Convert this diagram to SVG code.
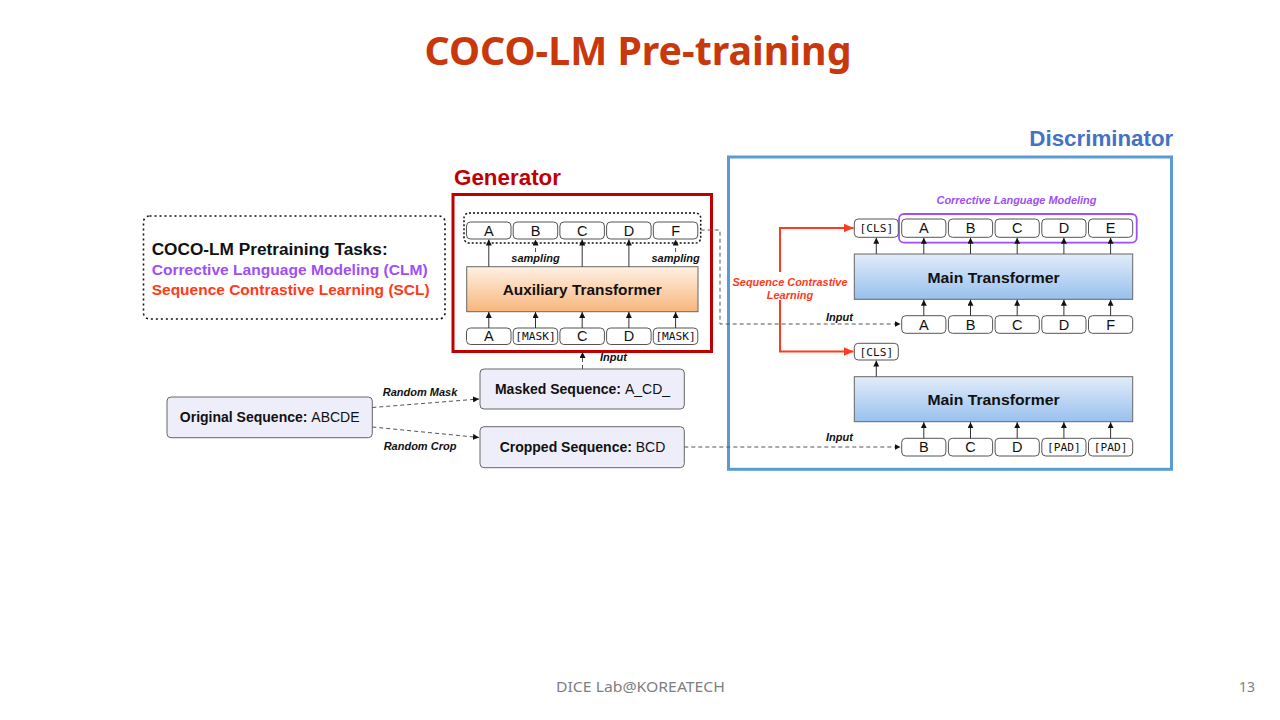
<svg xmlns="http://www.w3.org/2000/svg" width="1280" height="720" viewBox="0 0 1280 720">
<defs>
<style>
.tok{fill:#fff;stroke:#555;stroke-width:1}
.t{font-family:"Liberation Sans",Arial,sans-serif;font-size:14.5px;fill:#111;text-anchor:middle}
.m{font-family:"DejaVu Sans Mono","Liberation Mono",monospace;font-size:11.2px;fill:#111;text-anchor:middle}
.lbl{font-family:"Liberation Sans",Arial,sans-serif;font-size:11px;font-weight:bold;font-style:italic;fill:#111}
.clm{fill:#A04EF6}
.scl{fill:#FF3A1A}
.big{font-family:"Liberation Sans",Arial,sans-serif;font-size:15.5px;font-weight:bold;fill:#111;text-anchor:middle}
.seq{fill:#EEEEFA;stroke:#666;stroke-width:1}
.seqt{font-family:"Liberation Sans",Arial,sans-serif;font-size:14px;fill:#111;text-anchor:middle}
.ar{stroke:#333;stroke-width:1;fill:none;marker-end:url(#ah)}
.dash{stroke:#555;stroke-width:1;fill:none;stroke-dasharray:4 3}
.head{font-family:"Liberation Sans",Arial,sans-serif;font-size:22.4px;font-weight:bold}
</style>
<marker id="ah" markerWidth="6" markerHeight="6" refX="6" refY="3" orient="auto" markerUnits="userSpaceOnUse"><path d="M0,0 L6,3 L0,6 z" fill="#111"/></marker>
<marker id="ahr" markerWidth="10" markerHeight="9" refX="10" refY="4.5" orient="auto" markerUnits="userSpaceOnUse"><path d="M0,0 L10,4.5 L0,9 z" fill="#FF3B1F"/></marker>
<linearGradient id="gOr" x1="0" y1="0" x2="0" y2="1"><stop offset="0" stop-color="#FEF1E3"/><stop offset="1" stop-color="#F8B67C"/></linearGradient>
<linearGradient id="gBl" x1="0" y1="0" x2="0" y2="1"><stop offset="0" stop-color="#E2ECF9"/><stop offset="1" stop-color="#98C0EE"/></linearGradient>
</defs>
<rect width="1280" height="720" fill="#fff"/>

<g id="title"><text x="638" y="65" text-anchor="middle" font-family="'Noto Sans','Open Sans',sans-serif" font-size="40" font-weight="bold" fill="#C8380C" textLength="427" lengthAdjust="spacingAndGlyphs">COCO-LM Pre-training</text></g>

<g id="tasks">
<rect x="143.5" y="216" width="301.5" height="103" rx="6" fill="none" stroke="#111" stroke-width="1.6" stroke-dasharray="2 3"/>
<text x="151.7" y="254.5" font-family="'Liberation Sans',Arial,sans-serif" font-size="16.8" font-weight="bold" fill="#111" textLength="236" lengthAdjust="spacingAndGlyphs">COCO-LM Pretraining Tasks:</text>
<text x="151.7" y="275" font-family="'Liberation Sans',Arial,sans-serif" font-size="15.5" font-weight="bold" fill="#A04EF6" textLength="276" lengthAdjust="spacingAndGlyphs">Corrective Language Modeling (CLM)</text>
<text x="151.7" y="294.5" font-family="'Liberation Sans',Arial,sans-serif" font-size="15.5" font-weight="bold" fill="#FF3A1A" textLength="278" lengthAdjust="spacingAndGlyphs">Sequence Contrastive Learning (SCL)</text>
</g>

<g id="generator">
<text class="head" x="454" y="185" fill="#C00000" textLength="107" lengthAdjust="spacingAndGlyphs">Generator</text>
<rect x="453" y="194.5" width="258.5" height="157" fill="none" stroke="#C00000" stroke-width="3"/>
<rect x="464" y="213" width="236.7" height="30" rx="5" fill="none" stroke="#111" stroke-width="1.5" stroke-dasharray="2 2"/>
<g id="gen-out">
<rect class="tok" x="466.5" y="222" width="44.5" height="17" rx="4"/><text class="t" x="488.8" y="235.7">A</text>
<rect class="tok" x="513.2" y="222" width="44.5" height="17" rx="4"/><text class="t" x="535.5" y="235.7">B</text>
<rect class="tok" x="559.9" y="222" width="44.5" height="17" rx="4"/><text class="t" x="582.2" y="235.7">C</text>
<rect class="tok" x="606.6" y="222" width="44.5" height="17" rx="4"/><text class="t" x="628.9" y="235.7">D</text>
<rect class="tok" x="653.3" y="222" width="44.5" height="17" rx="4"/><text class="t" x="675.6" y="235.7">F</text>
</g>
<g id="aux">
<rect x="466.7" y="266.7" width="231.3" height="45" fill="url(#gOr)" stroke="#666" stroke-width="1"/>
<text class="big" x="582.2" y="295" textLength="159" lengthAdjust="spacingAndGlyphs">Auxiliary Transformer</text>
</g>
<text class="lbl" x="535.5" y="262" text-anchor="middle" font-size="10.5">sampling</text>
<text class="lbl" x="675.6" y="262" text-anchor="middle" font-size="10.5">sampling</text>
<g id="gen-in">
<rect class="tok" x="466.5" y="328" width="44.5" height="16.5" rx="4"/><text class="t" x="488.8" y="341.3">A</text>
<rect class="tok" x="513.2" y="328" width="44.5" height="16.5" rx="4"/><text class="m" x="535.5" y="340.3">[MASK]</text>
<rect class="tok" x="559.9" y="328" width="44.5" height="16.5" rx="4"/><text class="t" x="582.2" y="341.3">C</text>
<rect class="tok" x="606.6" y="328" width="44.5" height="16.5" rx="4"/><text class="t" x="628.9" y="341.3">D</text>
<rect class="tok" x="653.3" y="328" width="44.5" height="16.5" rx="4"/><text class="m" x="675.6" y="340.3">[MASK]</text>
</g>
</g>

<g id="sequences">
<g id="original"><rect class="seq" x="167" y="397" width="205.3" height="40.7" rx="4"/>
<text class="seqt" x="269.7" y="422"><tspan font-weight="bold">Original Sequence: </tspan>ABCDE</text></g>
<g id="masked"><rect class="seq" x="480" y="369" width="204.3" height="40" rx="4"/>
<text class="seqt" x="582.5" y="393.5"><tspan font-weight="bold">Masked Sequence: </tspan>A_CD_</text></g>
<g id="cropped"><rect class="seq" x="480" y="426.7" width="204.3" height="41" rx="4"/>
<text class="seqt" x="582.5" y="452.3"><tspan font-weight="bold">Cropped Sequence: </tspan>BCD</text></g>
</g>

<g id="discriminator">
<text class="head" x="1029.3" y="146" fill="#4472C4" textLength="144" lengthAdjust="spacingAndGlyphs">Discriminator</text>
<rect x="728.5" y="157" width="443" height="312.3" fill="none" stroke="#5B9BD5" stroke-width="3"/>
<text class="lbl clm" x="1016.5" y="204" text-anchor="middle" textLength="160" lengthAdjust="spacingAndGlyphs">Corrective Language Modeling</text>
<rect x="899" y="214" width="237.7" height="28.7" rx="5" fill="none" stroke="#A04EF6" stroke-width="1.8"/>
<g id="disc-out">
<rect class="tok" x="854.3" y="219" width="44" height="18.3" rx="4"/><text class="m" x="876.3" y="232">[CLS]</text>
<rect class="tok" x="901.7" y="219" width="44.2" height="18.3" rx="4"/><text class="t" x="923.8" y="233.3">A</text>
<rect class="tok" x="948.4" y="219" width="44.2" height="18.3" rx="4"/><text class="t" x="970.5" y="233.3">B</text>
<rect class="tok" x="995.1" y="219" width="44.2" height="18.3" rx="4"/><text class="t" x="1017.2" y="233.3">C</text>
<rect class="tok" x="1041.8" y="219" width="44.2" height="18.3" rx="4"/><text class="t" x="1063.9" y="233.3">D</text>
<rect class="tok" x="1088.5" y="219" width="44.2" height="18.3" rx="4"/><text class="t" x="1110.6" y="233.3">E</text>
</g>
<g id="main1">
<rect x="854.3" y="254" width="278.4" height="45.3" fill="url(#gBl)" stroke="#666" stroke-width="1"/>
<text class="big" x="993.5" y="282.5" textLength="132" lengthAdjust="spacingAndGlyphs">Main Transformer</text>
</g>
<g id="disc-in1">
<rect class="tok" x="901.7" y="315.7" width="44.2" height="17.6" rx="4"/><text class="t" x="923.8" y="329.7">A</text>
<rect class="tok" x="948.4" y="315.7" width="44.2" height="17.6" rx="4"/><text class="t" x="970.5" y="329.7">B</text>
<rect class="tok" x="995.1" y="315.7" width="44.2" height="17.6" rx="4"/><text class="t" x="1017.2" y="329.7">C</text>
<rect class="tok" x="1041.8" y="315.7" width="44.2" height="17.6" rx="4"/><text class="t" x="1063.9" y="329.7">D</text>
<rect class="tok" x="1088.5" y="315.7" width="44.2" height="17.6" rx="4"/><text class="t" x="1110.6" y="329.7">F</text>
</g>
<g id="cls2">
<rect class="tok" x="854.3" y="343.3" width="44" height="16.7" rx="4"/><text class="m" x="876.3" y="355.6">[CLS]</text>
</g>
<g id="main2">
<rect x="854.3" y="376.7" width="278.4" height="45" fill="url(#gBl)" stroke="#666" stroke-width="1"/>
<text class="big" x="993.5" y="405" textLength="132" lengthAdjust="spacingAndGlyphs">Main Transformer</text>
</g>
<g id="disc-in2">
<rect class="tok" x="901.7" y="438.3" width="44.2" height="17.7" rx="4"/><text class="t" x="923.8" y="452.3">B</text>
<rect class="tok" x="948.4" y="438.3" width="44.2" height="17.7" rx="4"/><text class="t" x="970.5" y="452.3">C</text>
<rect class="tok" x="995.1" y="438.3" width="44.2" height="17.7" rx="4"/><text class="t" x="1017.2" y="452.3">D</text>
<rect class="tok" x="1041.8" y="438.3" width="44.2" height="17.7" rx="4"/><text class="m" x="1063.9" y="451.2">[PAD]</text>
<rect class="tok" x="1088.5" y="438.3" width="44.2" height="17.7" rx="4"/><text class="m" x="1110.6" y="451.2">[PAD]</text>
</g>
</g>

<g id="connectors">
<path class="ar" d="M488.8 266.7 V239.5"/>
<path class="ar" d="M582.2 266.7 V239.5"/>
<path class="ar" d="M628.9 266.7 V239.5"/>
<path class="dash ar" d="M535.5 252 V239.5" stroke-dasharray="2 2"/>
<path class="dash ar" d="M675.6 252 V239.5" stroke-dasharray="2 2"/>
<path class="ar" d="M488.8 328 V312"/>
<path class="ar" d="M535.5 328 V312"/>
<path class="ar" d="M582.2 328 V312"/>
<path class="ar" d="M628.9 328 V312"/>
<path class="ar" d="M675.6 328 V312"/>
<path class="dash ar" d="M582.5 369 V352" stroke-dasharray="3 2"/>
<text class="lbl" x="600" y="360.5">Input</text>
<path class="dash ar" d="M372.3 407.5 L479 399"/>
<path class="dash ar" d="M372.3 427 L479 437.5"/>
<text class="lbl" x="420" y="395.5" text-anchor="middle">Random Mask</text>
<text class="lbl" x="420" y="449.5" text-anchor="middle">Random Crop</text>
<path class="dash ar" d="M700.7 230 H720 V324 H900.5"/>
<text class="lbl" x="826" y="320.5">Input</text>
<path class="dash ar" d="M684.3 447 H900.5"/>
<text class="lbl" x="826" y="440.5">Input</text>
<path class="ar" d="M876.3 254 V237.8"/>
<path class="ar" d="M923.8 254 V237.8"/>
<path class="ar" d="M970.5 254 V237.8"/>
<path class="ar" d="M1017.2 254 V237.8"/>
<path class="ar" d="M1063.9 254 V237.8"/>
<path class="ar" d="M1110.6 254 V237.8"/>
<path class="ar" d="M923.8 315.7 V299.8"/>
<path class="ar" d="M970.5 315.7 V299.8"/>
<path class="ar" d="M1017.2 315.7 V299.8"/>
<path class="ar" d="M1063.9 315.7 V299.8"/>
<path class="ar" d="M1110.6 315.7 V299.8"/>
<path class="ar" d="M876.3 376.7 V360.5"/>
<path class="ar" d="M923.8 438.3 V422.2"/>
<path class="ar" d="M970.5 438.3 V422.2"/>
<path class="ar" d="M1017.2 438.3 V422.2"/>
<path class="ar" d="M1063.9 438.3 V422.2"/>
<path class="ar" d="M1110.6 438.3 V422.2"/>
<path d="M780 272 V228 H853.5" fill="none" stroke="#FF3B1F" stroke-width="2" marker-end="url(#ahr)"/>
<path d="M780 300 V351.5 H853.5" fill="none" stroke="#FF3B1F" stroke-width="2" marker-end="url(#ahr)"/>
<text class="lbl scl" x="790" y="285.5" text-anchor="middle" textLength="115" lengthAdjust="spacingAndGlyphs">Sequence Contrastive</text>
<text class="lbl scl" x="790" y="298.5" text-anchor="middle">Learning</text>
</g>

<g id="footer">
<text x="640.5" y="692" text-anchor="middle" font-family="'Noto Sans','Open Sans',sans-serif" font-size="14" fill="#7F7F7F" textLength="169" lengthAdjust="spacingAndGlyphs">DICE Lab@KOREATECH</text>
<text x="1255" y="692" text-anchor="end" font-family="'Noto Sans','Open Sans',sans-serif" font-size="14" fill="#7F7F7F">13</text>
</g>
</svg>
